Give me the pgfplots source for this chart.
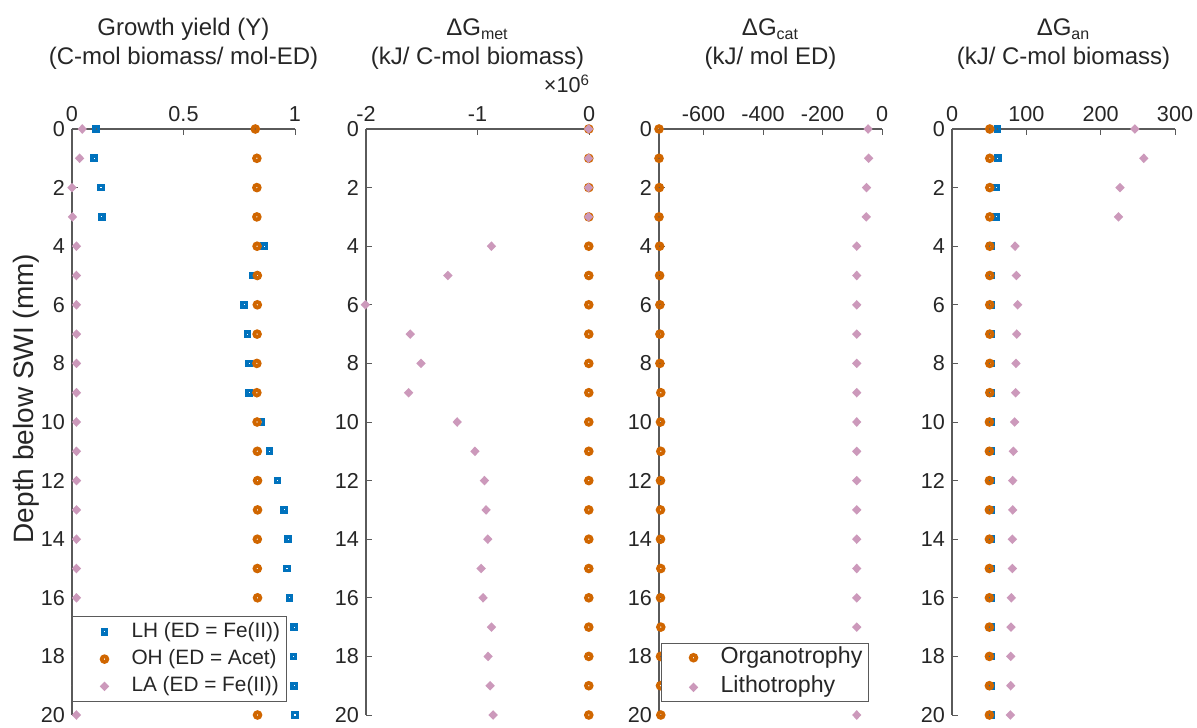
\documentclass[border=0pt]{standalone}
\usepackage{fontspec}
\setmainfont{Liberation Sans}
\usepackage{pgfplots}
\usepackage{pgfplotstable}
\pgfplotsset{compat=1.18}

\definecolor{cBlue}{RGB}{0,114,189}
\definecolor{cOrange}{RGB}{208,102,0}
\definecolor{cPink}{RGB}{204,153,187}
\definecolor{txt}{RGB}{38,38,38}
\definecolor{axgray}{RGB}{90,90,90}

\newcommand\tickfont{\fontsize{10.8}{13}\selectfont}
\newcommand\titlefont{\fontsize{12}{14.5}\selectfont}
\newcommand\legAfont{\fontsize{10.4}{12.5}\selectfont}
\newcommand\legBfont{\fontsize{11.6}{14}\selectfont}
\newcommand\labfont{\fontsize{14}{16}\selectfont}

% Growth yield, C-mol biomass per mol ED
\pgfplotstableread{
depth LH     OH     LA
0     0.109  0.822  0.046
1     0.100  0.829  0.034
2     0.130  0.829  0.000
3     0.133  0.829  0.002
4     0.862  0.830  0.020
5     0.813  0.831  0.020
6     0.772  0.831  0.020
7     0.787  0.830  0.020
8     0.795  0.829  0.020
9     0.795  0.829  0.020
10    0.850  0.830  0.020
11    0.885  0.831  0.020
12    0.921  0.832  0.020
13    0.951  0.832  0.020
14    0.970  0.831  0.020
15    0.964  0.831  0.020
16    0.975  0.832  0.020
17    0.997  0.832  0.020
18    0.993  0.832  0.020
19    0.996  0.832  0.020
20    1.000  0.832  0.020
}\yieldtab

% dG_met, kJ per C-mol biomass
\pgfplotstableread{
depth OH      LA
0     -2000   -4000
1     -2000   -4000
2     -2000   -4000
3     -2000   -4000
4     -2000   -875000
5     -2000   -1266000
6     -2000   -2006000
7     -2000   -1603000
8     -2000   -1507000
9     -2000   -1618000
10    -2000   -1182000
11    -2000   -1023000
12    -2000   -938000
13    -2000   -923000
14    -2000   -908000
15    -2000   -968000
16    -2000   -950000
17    -2000   -875000
18    -2000   -905000
19    -2000   -887000
20    -2000   -860000
}\metab

% dG_cat, kJ per mol ED
\pgfplotstableread{
depth OH    LA
0     -750  -47
1     -750  -45
2     -749  -52
3     -750  -53
4     -748  -85
5     -748  -85
6     -747  -85
7     -747  -85
8     -747  -85
9     -744  -85
10    -745  -85
11    -744  -85
12    -745  -85
13    -745  -85
14    -745  -85
15    -744  -85
16    -745  -85
17    -744  -85
18    -745  -85
19    -745  -85
20    -744  -85
}\cattab

% dG_an, kJ per C-mol biomass
\pgfplotstableread{
depth LH    OH    LA
0     61.0  50.8  246.0
1     61.4  50.8  258.0
2     60.0  50.8  226.0
3     59.6  50.8  224.0
4     52.0  50.8  84.8
5     52.0  50.8  86.5
6     52.0  50.8  88.3
7     52.0  50.8  87.0
8     52.0  50.8  86.0
9     52.0  50.8  85.6
10    52.0  50.3  84.3
11    52.0  50.3  82.5
12    52.0  50.3  81.6
13    52.0  50.3  81.6
14    52.0  50.3  81.2
15    52.0  50.3  81.2
16    52.0  50.3  79.8
17    52.0  50.3  79.4
18    52.0  50.3  79.0
19    52.0  50.3  79.0
20    52.0  50.3  78.5
}\antab

\pgfplotsset{
  panel/.style={
    scale only axis, width=111.5pt, height=293pt, anchor=south west,
    ymin=0, ymax=20, y dir=reverse, clip=false,
    axis x line*=top, axis y line*=left,
    axis line style={-, draw=axgray, line width=0.6pt},
    tick align=inside, major tick length=3pt,
    tick style={draw=axgray, line width=0.5pt},
    ytick={0,2,...,20},
    ticklabel style={font=\tickfont, text=txt},
    /pgf/number format/assume math mode=true,
    scaled x ticks=false,
    legend cell align=left,
  },
  % a legend sample: one mark in a fixed-width cell
  legmark/.style={legend image code/.code={%
    \path[draw=none, fill=none] (0pt,0pt) -- (26.5pt,0pt);
    \draw[##1, only marks] plot coordinates {(15pt,0pt)};}},
  sLH/.style={only marks, mark=square, mark size=1.1pt, draw=cBlue,
    mark options={line width=1.65pt, draw=cBlue}, legmark},
  sOH/.style={only marks, mark=o, mark size=1.4pt, draw=cOrange,
    mark options={line width=1.9pt, draw=cOrange}, legmark},
  sLA/.style={only marks, mark=diamond*, mark size=1.9pt, draw=cPink, fill=cPink,
    mark options={line width=0.7pt, draw=cPink, fill=cPink, xscale=1.3}, legmark},
}

\begin{document}
\begin{tikzpicture}
\useasboundingbox (0,0) rectangle (598.5pt,363.5pt);

% Growth yield
\begin{axis}[panel, at={(36pt,6pt)},
  xmin=0, xmax=1, xtick={0,0.5,1}, xticklabels={0,0.5,1},
  legend style={at={(axis description cs:0,0.022)}, anchor=south west,
    font=\legAfont, text=txt, draw=axgray, line width=0.5pt, fill=white,
    inner xsep=1pt, inner ysep=2pt, row sep=2.3pt,
    nodes={inner xsep=2pt, inner ysep=0.8pt, text height=0.75em, text depth=0.22em}},
]
\addplot[sLH] table[x=LH, y=depth] {\yieldtab};
\addlegendentry{LH (ED = Fe(II))}
\addplot[sOH] table[x=OH, y=depth] {\yieldtab};
\addlegendentry{OH (ED = Acet)}
\addplot[sLA] table[x=LA, y=depth] {\yieldtab};
\addlegendentry{LA (ED = Fe(II))}
\node[anchor=base, font=\titlefont, text=txt, yshift=46.5pt] at (axis description cs:0.5,1) {Growth yield (Y)};
\node[anchor=base, font=\titlefont, text=txt, yshift=32pt] at (axis description cs:0.5,1) {(C-mol biomass/ mol-ED)};
\node[xshift=-23pt, rotate=90, anchor=center, font=\labfont, text=txt] at (axis description cs:0,0.54) {Depth below SWI (mm)};
\end{axis}

% Metabolic free energy
\begin{axis}[panel, at={(183pt,6pt)},
  xmin=-2000000, xmax=0, xtick={-2000000,-1000000,0}, xticklabels={-2,-1,0},
]
\addplot[sOH] table[x=OH, y=depth] {\metab};
\addplot[sLA] table[x=LA, y=depth] {\metab};
\node[anchor=base, font=\titlefont, text=txt, yshift=46.5pt] at (axis description cs:0.5,1) {ΔG\textsubscript{met}};
\node[anchor=base, font=\titlefont, text=txt, yshift=32pt] at (axis description cs:0.5,1) {(kJ/ C-mol biomass)};
\node[anchor=base east, font=\tickfont, text=txt, xshift=4pt, yshift=18pt] at (axis description cs:1,1) {×10\textsuperscript{6}};
\end{axis}

% Catabolic free energy
\begin{axis}[panel, at={(329.5pt,6pt)},
  xmin=-750, xmax=0, xtick={-600,-400,-200,0}, xticklabels={-600,-400,-200,0},
  legend style={at={(axis description cs:0.009,0.022)}, anchor=south west,
    font=\legBfont, text=txt, draw=axgray, line width=0.5pt, fill=white,
    inner xsep=1pt, inner ysep=1.5pt, row sep=3.5pt,
    nodes={inner xsep=2pt, inner ysep=0.8pt, text height=0.75em, text depth=0.22em}},
]
\addplot[sOH] table[x=OH, y=depth] {\cattab};
\addlegendentry{Organotrophy}
\addplot[sLA] table[x=LA, y=depth] {\cattab};
\addlegendentry{Lithotrophy}
\node[anchor=base, font=\titlefont, text=txt, yshift=46.5pt] at (axis description cs:0.5,1) {ΔG\textsubscript{cat}};
\node[anchor=base, font=\titlefont, text=txt, yshift=32pt] at (axis description cs:0.5,1) {(kJ/ mol ED)};
\end{axis}

% Anabolic free energy
\begin{axis}[panel, at={(476pt,6pt)},
  xmin=0, xmax=300, xtick={0,100,200,300}, xticklabels={0,100,200,300},
]
\addplot[sLH] table[x=LH, y=depth] {\antab};
\addplot[sOH] table[x=OH, y=depth] {\antab};
\addplot[sLA] table[x=LA, y=depth] {\antab};
\node[anchor=base, font=\titlefont, text=txt, yshift=46.5pt] at (axis description cs:0.5,1) {ΔG\textsubscript{an}};
\node[anchor=base, font=\titlefont, text=txt, yshift=32pt] at (axis description cs:0.5,1) {(kJ/ C-mol biomass)};
\end{axis}
\end{tikzpicture}
\end{document}
